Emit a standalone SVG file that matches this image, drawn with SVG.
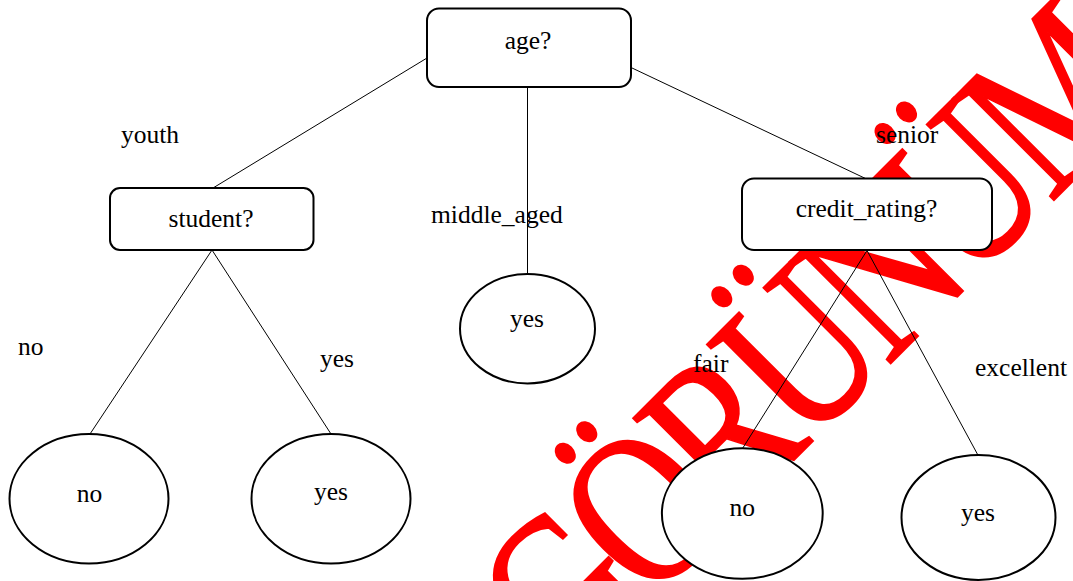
<svg xmlns="http://www.w3.org/2000/svg" width="1073" height="581" viewBox="0 0 1073 581">
<style>
.box{fill:#fff;stroke:#000;stroke-width:2}
.t{font-family:"Liberation Serif","Times New Roman",serif;font-size:25.5px;fill:#000}
.m{text-anchor:middle}
.c line{stroke:#000;stroke-width:1}
.wm{font-family:"Liberation Serif","Times New Roman",serif;font-size:175px;letter-spacing:-11px;fill:#ff0000;stroke:#ff0000;stroke-width:1.5;text-anchor:middle}
</style>
<rect width="1073" height="581" fill="#fff"/>
<text class="wm" transform="translate(860 394) rotate(-45) scale(1 1.25)">GÖRÜNÜM</text>
<g id="node-age">
<rect class="box" x="427" y="8.5" width="204" height="78.5" rx="12"/>
<text class="t m" x="528" y="49">age?</text>
</g>
<g id="node-student">
<rect class="box" x="110" y="188" width="203.5" height="62" rx="10"/>
<text class="t m" x="211" y="227">student?</text>
</g>
<g id="node-credit">
<rect class="box" x="742" y="178.5" width="250" height="71.5" rx="12"/>
<text class="t m" x="866.5" y="216.5">credit_rating?</text>
</g>
<g id="node-mid-yes">
<ellipse class="box" cx="527.5" cy="328.7" rx="67.5" ry="54.7"/>
<text class="t m" x="527" y="327">yes</text>
</g>
<g id="node-student-no">
<ellipse class="box" cx="89" cy="498.7" rx="79.5" ry="64.7"/>
<text class="t m" x="89.5" y="501.5">no</text>
</g>
<g id="node-student-yes">
<ellipse class="box" cx="331" cy="498.7" rx="79.5" ry="64.7"/>
<text class="t m" x="331" y="500">yes</text>
</g>
<g id="node-credit-no">
<ellipse class="box" cx="742.3" cy="513.5" rx="80.4" ry="65.3"/>
<text class="t m" x="742.3" y="516">no</text>
</g>
<g id="node-credit-yes">
<ellipse class="box" cx="978.5" cy="517.5" rx="77" ry="62.4"/>
<text class="t m" x="978" y="520.5">yes</text>
</g>
<g id="connectors" class="c">
<line x1="427" y1="58" x2="213" y2="188"/>
<line x1="527.5" y1="87" x2="527.5" y2="274"/>
<line x1="631" y1="67.5" x2="865.5" y2="178.5"/>
<line x1="212" y1="250" x2="90" y2="434"/>
<line x1="212" y1="250" x2="331" y2="434"/>
<line x1="867" y1="250.5" x2="742.5" y2="448.5"/>
<line x1="867" y1="250.5" x2="978" y2="455.2"/>
</g>
<g id="edge-labels">
<text class="t" x="121" y="143">youth</text>
<text class="t" x="431" y="223">middle_aged</text>
<text class="t" x="876" y="142.5">senior</text>
<text class="t" x="18" y="355">no</text>
<text class="t" x="320" y="367">yes</text>
<text class="t" x="693" y="371.5">fair</text>
<text class="t" x="975" y="376">excellent</text>
</g>
</svg>
